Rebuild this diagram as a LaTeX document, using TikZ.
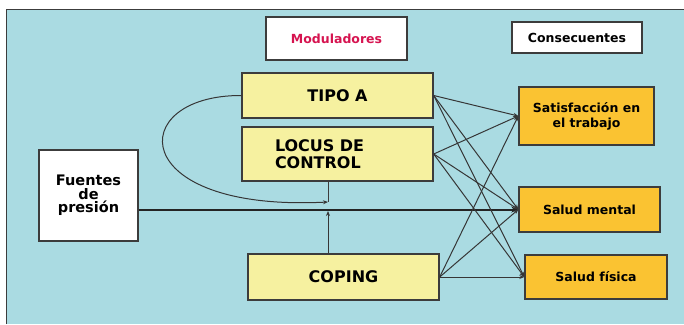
\documentclass[tikz,border=0pt]{standalone}
\usepackage{fontspec}
\setmainfont{DejaVu Sans}
\usetikzlibrary{calc,arrows.meta}
\definecolor{skyback}{RGB}{170,219,226}
\definecolor{modyellow}{RGB}{246,241,160}
\definecolor{outorange}{RGB}{250,195,50}
\definecolor{modred}{RGB}{214,20,80}
\definecolor{edgegray}{RGB}{60,60,60}
\tikzset{
  box/.style={draw=edgegray, line width=1.4pt, inner sep=2pt, align=center, font=\bfseries},
  modbox/.style={box, fill=modyellow, font=\bfseries\fontsize{16}{17}\selectfont},
  outbox/.style={box, fill=outorange, font=\bfseries\fontsize{12.5}{15}\selectfont},
  link/.style={draw=edgegray!90!black, line width=1pt, -{Stealth[length=5pt,width=4pt]}}
}
\begin{document}
\begin{tikzpicture}[x=1pt, y=-1pt]
			%%%%% START %%%%%
			
			\useasboundingbox (0, 0) rectangle (684, 324);
			\fill[white] (0, 0) rectangle (684, 324);
			\fill[skyback] (6, 9) rectangle (684, 324);
			\draw[edgegray, line width=1pt] (6, 324) -- (6, 9) -- (684, 9);
			
			% titles
			\node[box, fill=white, minimum width=141pt, minimum height=43pt, font=\bfseries\fontsize{12.5}{14}\selectfont, text=modred] (mod) at (336.5, 38.5) {Moduladores};
			\node[box, fill=white, minimum width=130pt, minimum height=31pt, font=\bfseries\fontsize{12.5}{14}\selectfont] (cons) at (577, 37.5) {Consecuentes};
			
			% source
			\node[box, fill=white, minimum width=99pt, minimum height=91pt, font=\bfseries\fontsize{14.5}{13.5}\selectfont] (src) at (88.5, 195.5) {Fuentes\\de\\presión};
			
			% moderators
			\node[modbox, minimum width=191pt, minimum height=45pt] (tipo) at (337.5, 95.5) {TIPO A};
			\node[modbox, minimum width=191pt, minimum height=54pt, text width=125pt, align=left] (locus) at (337.5, 154) {LOCUS DE\\CONTROL};
			\node[modbox, minimum width=191pt, minimum height=46pt] (coping) at (343.5, 277) {COPING};
			
			% outcomes
			\node[outbox, minimum width=135pt, minimum height=58pt] (sat) at (586.5, 116) {Satisfacción en\\el trabajo};
			\node[outbox, minimum width=141pt, minimum height=45pt] (mental) at (589.5, 209.5) {Salud mental};
			\node[outbox, minimum width=142pt, minimum height=44pt] (fisica) at (596, 277) {Salud física};
			
			% main path
			\draw[edgegray!60!black, line width=2pt, -{Stealth[length=7pt,width=6pt]}] (src.east |- mental.west) -- (mental.west);
			
			% moderator effects
			\coordinate (meet) at (328, 202);
			\coordinate (hit) at (328, 211);
			\draw[edgegray, line width=1pt] ([xshift=-9.5pt]locus.south) -- (meet);
			\draw[link] (tipo.west) .. controls (125, 95) and (125, 212) .. (meet);
			\draw[link] ([xshift=-15.5pt]coping.north) -- (hit);
			
			% cross links
			\foreach \m in {tipo, locus, coping}
				\foreach \o in {sat, mental, fisica}
					\draw[link] (\m.east) -- (\o.west);
			
			%%%%% END %%%%%
		\end{tikzpicture}
\end{document}
